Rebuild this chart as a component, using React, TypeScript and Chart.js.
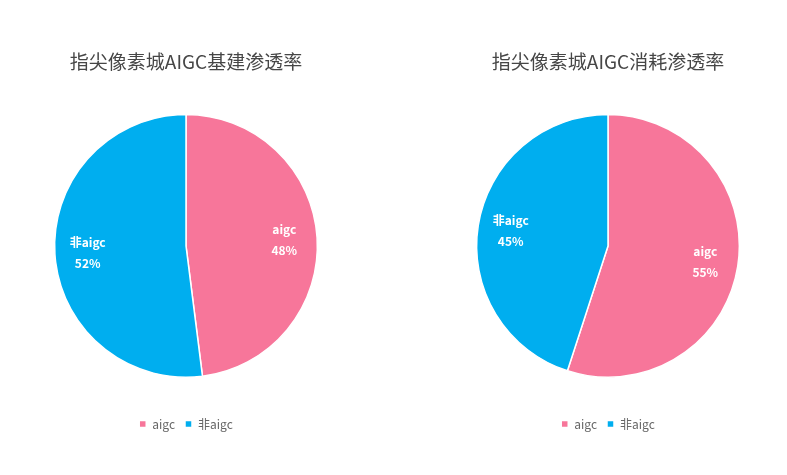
import React, { useEffect, useRef } from "react";
import { Chart, registerables } from "chart.js";

Chart.register(...registerables);

const categories = ["aigc", "非aigc"];
const buildValues = [48, 52];
const consumeValues = [55, 45];
const titles = ["指尖像素城AIGC基建渗透率", "指尖像素城AIGC消耗渗透率"];
const colors = ["#F7769A", "#00AEEF"];

const FONT = '"Noto Sans CJK SC", "Noto Sans", sans-serif';

const sliceLabels = {
  id: "sliceLabels",
  afterDatasetsDraw(chart: any) {
    const ctx = chart.ctx;
    const meta = chart.getDatasetMeta(0);
    const data = chart.data.datasets[0].data as number[];
    const total = data.reduce((a, b) => a + b, 0);
    ctx.save();
    ctx.fillStyle = "#ffffff";
    ctx.font = `bold 12px ${FONT}`;
    ctx.textAlign = "center";
    ctx.textBaseline = "middle";
    meta.data.forEach((arc: any, i: number) => {
      const { x, y, startAngle, endAngle, outerRadius } = arc.getProps(
        ["x", "y", "startAngle", "endAngle", "outerRadius"],
        true
      );
      const mid = (startAngle + endAngle) / 2;
      const r = outerRadius * 0.75;
      const lx = x + Math.cos(mid) * r;
      const ly = y + Math.sin(mid) * r;
      const pct = Math.round((data[i] / total) * 100) + "%";
      ctx.fillText(chart.data.labels[i], lx, ly - 10);
      ctx.fillText(pct, lx, ly + 11);
    });
    ctx.restore();
  },
};

function PieChart({ title, values }: { title: string; values: number[] }) {
  const ref = useRef<HTMLCanvasElement>(null);
  useEffect(() => {
    if (!ref.current) return;
    const chart = new Chart(ref.current, {
      type: "pie",
      data: {
        labels: categories,
        datasets: [
          {
            data: values,
            backgroundColor: colors,
            borderColor: "#ffffff",
            borderWidth: 1.5,
            hoverOffset: 0,
          },
        ],
      },
      options: {
        animation: false,
        responsive: false,
        maintainAspectRatio: false,
        layout: { padding: { top: 0, bottom: 35, left: 0, right: 0 } },
        plugins: {
          title: {
            display: true,
            text: title,
            color: "#464646",
            font: { family: FONT, size: 19, weight: "normal" },
            padding: { top: 50, bottom: 41 },
          },
          legend: {
            position: "bottom",
            title: {
              display: true,
              text: "",
              font: { size: 10 },
              padding: { top: 18, bottom: 0 },
            },
            labels: {
              color: "#666666",
              boxWidth: 7,
              boxHeight: 7,
              padding: 10,
              font: { family: FONT, size: 12 },
            },
          },
          tooltip: { enabled: false },
        },
      },
      plugins: [sliceLabels],
    });
    return () => chart.destroy();
  }, [title, values]);
  return <canvas ref={ref} width={360} height={475} style={{ width: 360, height: 475, display: "block" }} />;
}

export default function App() {
  return (
    <div style={{ position: "fixed", left: 0, top: 0, width: 787, height: 475, background: "#ffffff" }}>
      <div style={{ position: "absolute", left: 6, top: 0 }}>
        <PieChart title={titles[0]} values={buildValues} />
      </div>
      <div style={{ position: "absolute", left: 428, top: 0 }}>
        <PieChart title={titles[1]} values={consumeValues} />
      </div>
    </div>
  );
}
